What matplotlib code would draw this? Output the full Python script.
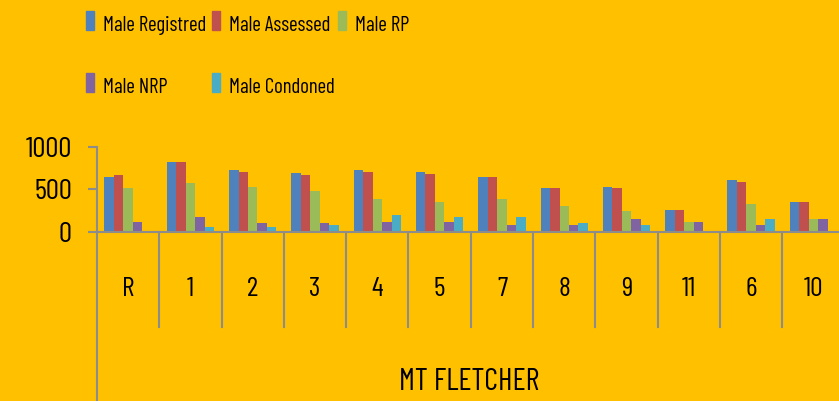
import numpy as np
import matplotlib.pyplot as plt
from matplotlib.patches import Rectangle
from matplotlib.transforms import blended_transform_factory

plt.rcParams['font.family'] = ['Barlow Condensed', 'Asap Condensed', 'DejaVu Sans']

categories = ['R', '1', '2', '3', '4', '5', '7', '8', '9', '11', '6', '10']
series_names = ['Male Registred', 'Male Assessed', 'Male RP', 'Male NRP', 'Male Condoned']
male_registred = [643, 816, 722, 686, 722, 702, 643, 510, 529, 251, 604, 345]
male_assessed = [663, 816, 702, 663, 702, 682, 643, 510, 510, 251, 588, 345]
male_rp = [510, 569, 529, 475, 380, 345, 380, 306, 247, 118, 325, 153]
male_nrp = [118, 173, 98, 98, 118, 114, 75, 75, 153, 118, 75, 153]
male_condoned = [0, 59, 59, 78, 192, 173, 173, 98, 75, 0, 153, 0]
colors = ['#4F81BD', '#C0504D', '#9BBB59', '#8064A2', '#4BACC6']

W, H = 839, 401
bg = '#FFC000'
axis_col = '#8C8C8C'

fig = plt.figure(figsize=(W / 100, H / 100), dpi=100, facecolor=bg)
cat_w = 62.3
ax = fig.add_axes([97 / W, (H - 231.7) / H, 12 * cat_w / W, 85 / H])
ax.set_facecolor(bg)

x = np.arange(len(categories))
bw = 0.152
all_series = [male_registred, male_assessed, male_rp, male_nrp, male_condoned]
for i, vals in enumerate(all_series):
    ax.bar(x + (i - 2) * bw, vals, width=bw, color=colors[i], zorder=2)

ax.set_xlim(-0.5, len(categories) - 0.5)
ax.set_ylim(0, 1000)
ax.set_yticks([0, 500, 1000])
ax.tick_params(axis='y', length=6.5, width=1.5, color=axis_col, pad=11.5, labelsize=21)
ax.set_xticks([])
for s in ['top', 'right']:
    ax.spines[s].set_visible(False)
for s in ['left', 'bottom']:
    ax.spines[s].set_color(axis_col)
    ax.spines[s].set_linewidth(1.5)

# category box lines below the axis
trans = blended_transform_factory(ax.transData, ax.transAxes)
for b in np.arange(-0.5, len(categories), 1.0):
    bottom = -2.2 if b == -0.5 else -1.118
    ax.plot([b, b], [0, bottom], color=axis_col, lw=1.5, transform=trans, clip_on=False)
for i, c in enumerate(categories):
    ax.text(i, -0.68, c, transform=trans, ha='center', va='center', fontsize=20)
ax.text(5.48, -1.768, 'MT FLETCHER', transform=trans, ha='center', va='center', fontsize=22)

# legend
leg_x = [86, 212, 338, 86, 212]
leg_y = [30, 30, 30, 92, 92]
for i, name in enumerate(series_names):
    fig.add_artist(Rectangle((leg_x[i] / W, 1 - leg_y[i] / H), 8 / W, 19 / H,
                             transform=fig.transFigure, color=colors[i]))
    fig.text((leg_x[i] + 17) / W, 1 - (leg_y[i] + 1) / H, name, fontsize=15, va='baseline')

fig.savefig('out.png', dpi=100, facecolor=bg)
